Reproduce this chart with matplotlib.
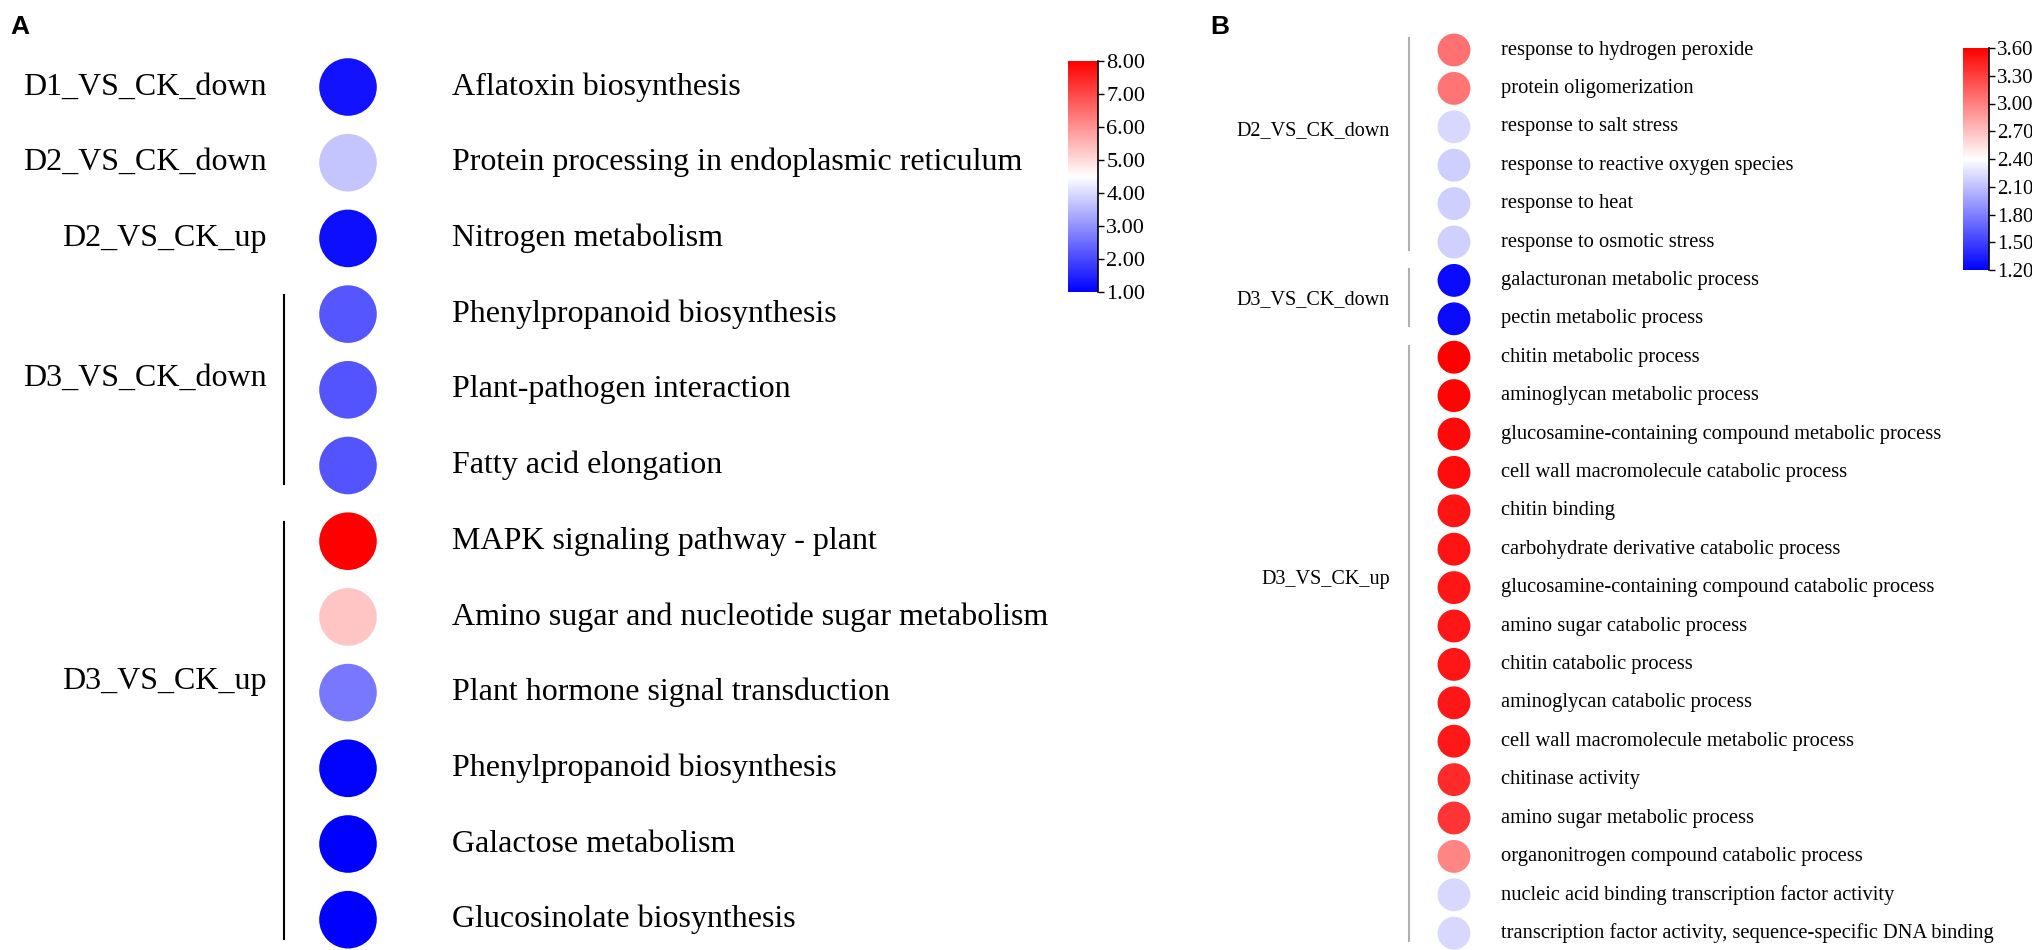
import matplotlib.pyplot as plt
import numpy as np

plt.rcParams['font.family'] = ['Liberation Serif', 'DejaVu Serif']

# ---- panel A : KEGG pathways ----
kegg_terms = ['Aflatoxin biosynthesis',
              'Protein processing in endoplasmic reticulum',
              'Nitrogen metabolism',
              'Phenylpropanoid biosynthesis',
              'Plant-pathogen interaction',
              'Fatty acid elongation',
              'MAPK signaling pathway - plant',
              'Amino sugar and nucleotide sugar metabolism',
              'Plant hormone signal transduction',
              'Phenylpropanoid biosynthesis',
              'Galactose metabolism',
              'Glucosinolate biosynthesis']
kegg_values = [1.25, 3.7, 1.2, 2.2, 2.15, 2.15, 8.0, 5.3, 2.65, 1.05, 1.0, 1.0]
kegg_groups = ['D1_VS_CK_down', 'D2_VS_CK_down', 'D2_VS_CK_up', 'D3_VS_CK_down', 'D3_VS_CK_up']
kegg_group_rows = [(0, 0), (1, 1), (2, 2), (3, 5), (6, 11)]
kegg_label_rows = [0, 1, 2, 3.85, 7.85]
kegg_ticks = [1, 2, 3, 4, 5, 6, 7, 8]

# ---- panel B : GO terms ----
go_terms = ['response to hydrogen peroxide',
            'protein oligomerization',
            'response to salt stress',
            'response to reactive oxygen species',
            'response to heat',
            'response to osmotic stress',
            'galacturonan metabolic process',
            'pectin metabolic process',
            'chitin metabolic process',
            'aminoglycan metabolic process',
            'glucosamine-containing compound metabolic process',
            'cell wall macromolecule catabolic process',
            'chitin binding',
            'carbohydrate derivative catabolic process',
            'glucosamine-containing compound catabolic process',
            'amino sugar catabolic process',
            'chitin catabolic process',
            'aminoglycan catabolic process',
            'cell wall macromolecule metabolic process',
            'chitinase activity',
            'amino sugar metabolic process',
            'organonitrogen compound catabolic process',
            'nucleic acid binding transcription factor activity',
            'transcription factor activity, sequence-specific DNA binding']
go_values = [3.07, 3.05, 2.22, 2.17, 2.17, 2.18, 1.25, 1.25,
             3.60, 3.58, 3.55, 3.54, 3.50, 3.50, 3.49, 3.49,
             3.49, 3.49, 3.48, 3.40, 3.35, 2.98, 2.22, 2.22]
go_groups = ['D2_VS_CK_down', 'D3_VS_CK_down', 'D3_VS_CK_up']
go_group_rows = [(0, 5), (6, 7), (8, 23)]
go_label_rows = [2.1, 6.5, 13.8]
go_ticks = [1.2, 1.5, 1.8, 2.1, 2.4, 2.7, 3.0, 3.3, 3.6]

W, H = 2033, 950
fig = plt.figure(figsize=(W / 100, H / 100), dpi=100)


def panel(left_px, right_px, col_px, row0_px, step_px):
    # axes spanning the full height; y in row units, x in pixels relative to the circle column
    ax = fig.add_axes([left_px / W, 0, (right_px - left_px) / W, 1])
    ax.set_xlim(left_px - col_px, right_px - col_px)
    ax.set_ylim((H - row0_px) / step_px, -row0_px / step_px)
    ax.axis('off')
    return ax


def colorbar(sc, box, ticks, size):
    x0, y0, x1, y1 = box
    cax = fig.add_axes([x0 / W, 1 - y1 / H, (x1 - x0) / W, (y1 - y0) / H])
    cb = fig.colorbar(sc, cax=cax, ticks=ticks, format='%.2f')
    cb.outline.set_visible(False)
    cax.plot([1, 1], [0, 1], transform=cax.transAxes, color='black', lw=1.2, clip_on=False)
    cax.tick_params(length=4, width=1.0, labelsize=size, pad=2)
    return cb


# panel A
axA = panel(0, 1080, 348, 87, 75.7)
rowsA = np.arange(len(kegg_terms))
scA = axA.scatter(np.zeros(len(rowsA)), rowsA, s=1720, c=kegg_values, cmap='bwr',
                  vmin=1, vmax=8, edgecolors='none')
for r, t in zip(rowsA, kegg_terms):
    axA.text(104, r, t, ha='left', va='center', fontsize=23)
for g, (a, b), lr in zip(kegg_groups, kegg_group_rows, kegg_label_rows):
    axA.text(-81, lr, g, ha='right', va='center', fontsize=23)
    if b > a:
        axA.plot([-64, -64], [a - 0.25, b + 0.25], color='black', lw=1.5)
fig.text(10 / W, 1 - 27 / H, 'A', fontsize=19, fontweight='bold',
         family='Liberation Sans', ha='left', va='center')
colorbar(scA, (1068, 61, 1098, 292), kegg_ticks, 16)

# panel B
axB = panel(1150, 1960, 1454, 50, 38.4)
rowsB = np.arange(len(go_terms))
scB = axB.scatter(np.zeros(len(rowsB)), rowsB, s=560, c=go_values, cmap='bwr',
                  vmin=1.2, vmax=3.6, edgecolors='none')
for r, t in zip(rowsB, go_terms):
    axB.text(47, r, t, ha='left', va='center', fontsize=14.8)
for g, (a, b), lr in zip(go_groups, go_group_rows, go_label_rows):
    axB.text(-64, lr, g, ha='right', va='center', fontsize=14.5)
    axB.plot([-45, -45], [a - 0.3, b + 0.2], color='#b0b0b0', lw=1.5)
fig.text(1210 / W, 1 - 27 / H, 'B', fontsize=19, fontweight='bold',
         family='Liberation Sans', ha='left', va='center')
colorbar(scB, (1963, 48, 1989, 270), go_ticks, 15)

fig.savefig('out.png', dpi=100)
